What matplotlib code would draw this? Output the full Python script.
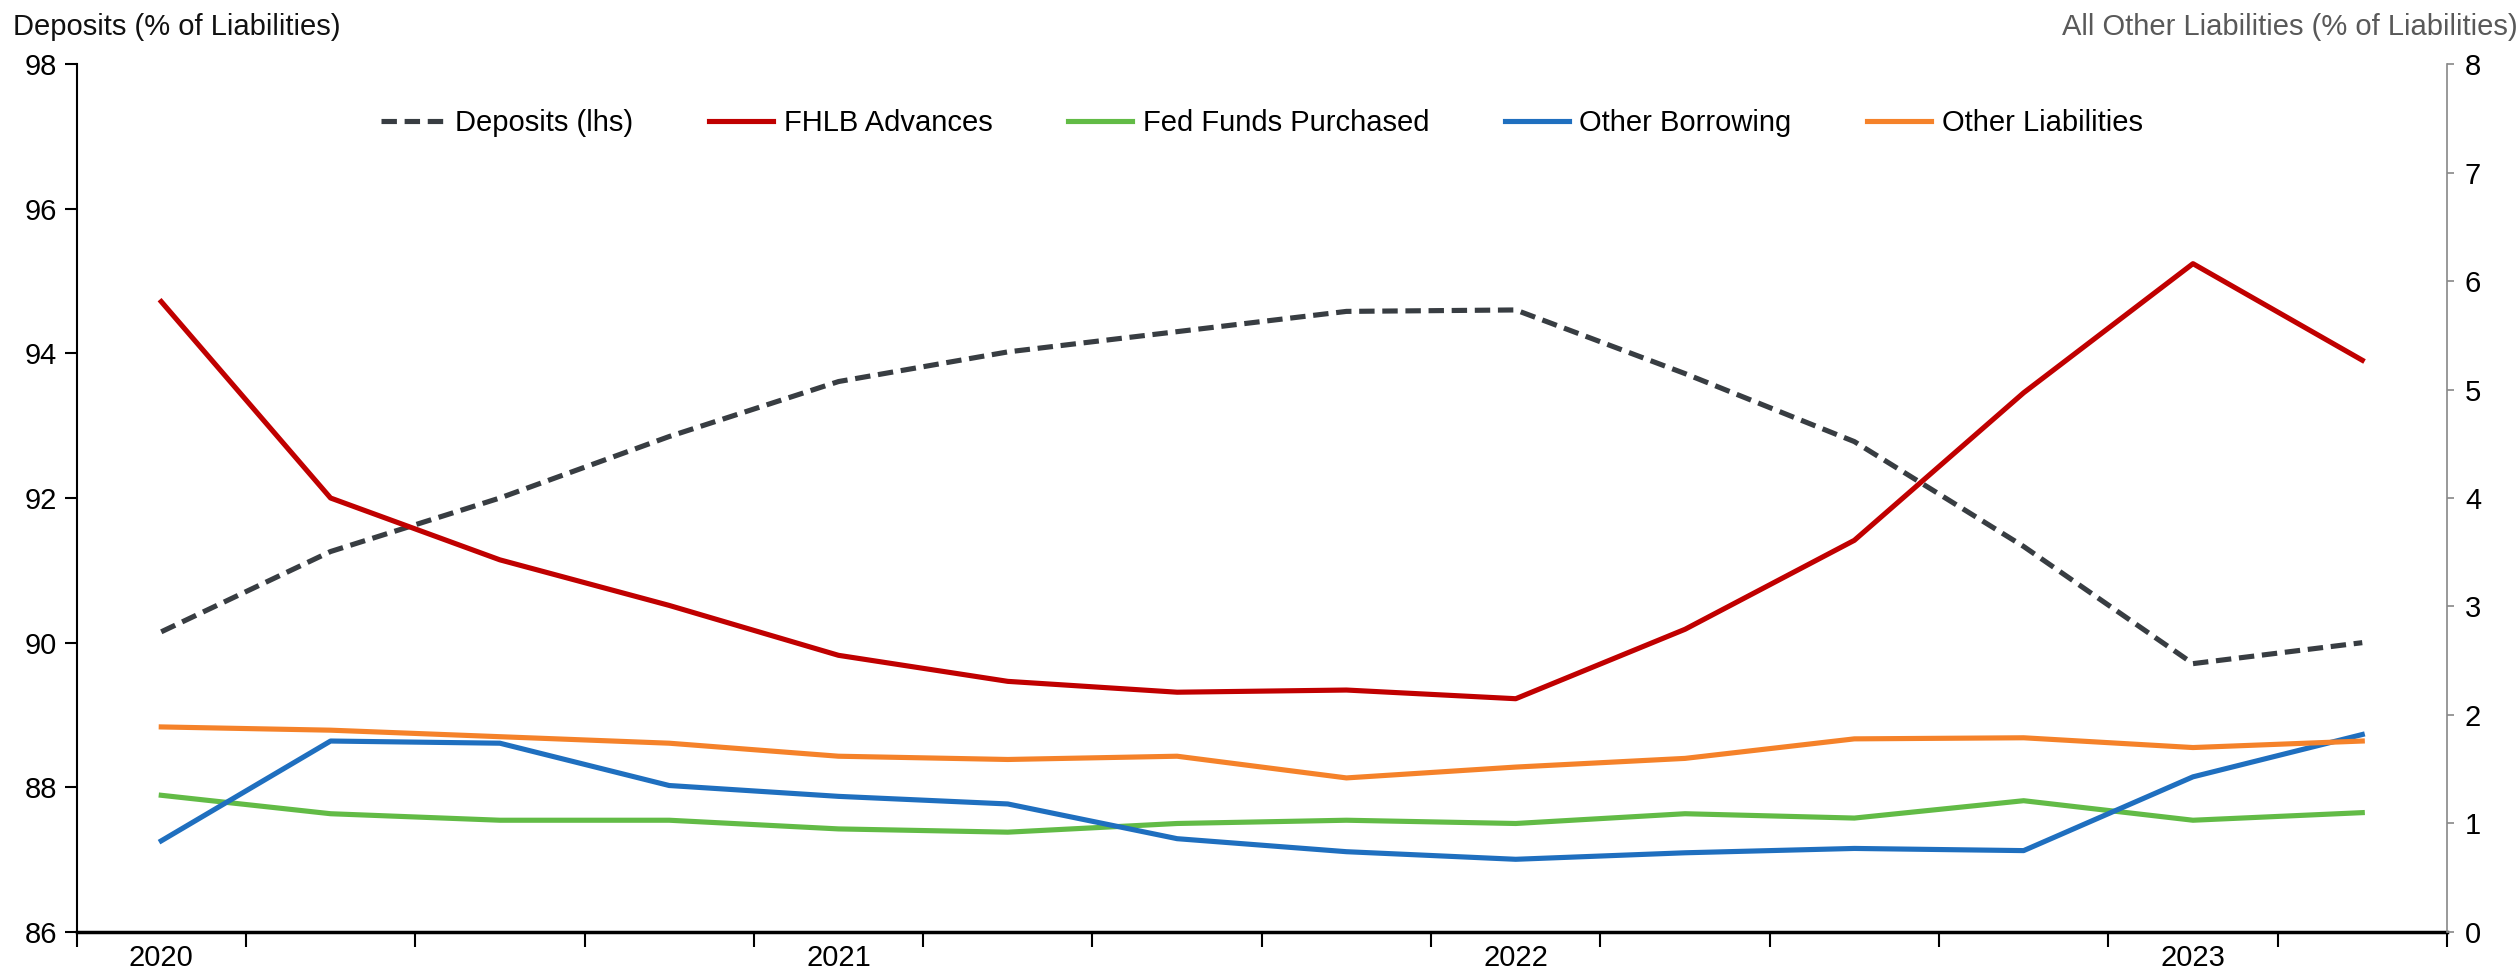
import numpy as np
import matplotlib
matplotlib.use("Agg")
from matplotlib import pyplot as plt

plt.rcParams['font.family'] = ['Liberation Sans', 'DejaVu Sans']

# quarterly data, 2020Q1 - 2023Q2
quarters = ["2020Q1", "2020Q2", "2020Q3", "2020Q4", "2021Q1", "2021Q2", "2021Q3",
            "2021Q4", "2022Q1", "2022Q2", "2022Q3", "2022Q4", "2023Q1", "2023Q2"]
year_labels = ["2020", "2021", "2022", "2023"]
year_pos = [0, 4, 8, 12]

deposits = [90.15, 91.26, 92.0, 92.85, 93.61, 94.02, 94.30, 94.58, 94.60, 93.72, 92.78, 91.33, 89.71, 90.0]
fhlb = [5.81, 4.0, 3.43, 3.01, 2.55, 2.31, 2.21, 2.23, 2.15, 2.79, 3.61, 4.97, 6.16, 5.27]
fed_funds = [1.26, 1.09, 1.03, 1.03, 0.95, 0.92, 1.0, 1.03, 1.0, 1.09, 1.05, 1.21, 1.03, 1.10]
other_borrowing = [0.84, 1.76, 1.74, 1.35, 1.25, 1.18, 0.86, 0.74, 0.67, 0.73, 0.77, 0.75, 1.43, 1.82]
other_liab = [1.89, 1.86, 1.80, 1.74, 1.62, 1.59, 1.62, 1.42, 1.52, 1.60, 1.78, 1.79, 1.70, 1.76]

x = np.arange(len(quarters))
fs = 21

fig = plt.figure(figsize=(25.2, 9.76), dpi=100)
ax = fig.add_axes([0.0304, 0.0451, 0.9406, 0.8893])
ax2 = ax.twinx()

lw = 3.7
l0, = ax.plot(x, deposits, color="#383d42", lw=lw, dashes=(3.0, 1.5), label="Deposits (lhs)")
l1, = ax2.plot(x, fhlb, color="#c00000", lw=lw, label="FHLB Advances")
l2, = ax2.plot(x, fed_funds, color="#62bb46", lw=lw, label="Fed Funds Purchased")
l3, = ax2.plot(x, other_borrowing, color="#1f6fbf", lw=lw, label="Other Borrowing")
l4, = ax2.plot(x, other_liab, color="#f5822a", lw=lw, label="Other Liabilities")

ax.set_xlim(-0.5, len(quarters) - 0.5)
ax.set_ylim(86, 98)
ax.set_yticks(np.arange(86, 99, 2))
ax2.set_ylim(0, 8)
ax2.set_yticks(np.arange(0, 9, 1))

# category boundaries as ticks, year labels in the middle
ax.set_xticks(np.arange(-0.5, len(quarters)), labels=[])
ax.set_xticks(year_pos, labels=year_labels, minor=True)
ax.tick_params(axis="x", which="major", length=11, width=1.5, direction="out", color="black")
ax.tick_params(axis="x", which="minor", length=0, pad=9, labelsize=fs)
ax.tick_params(axis="y", length=9, width=1.5, labelsize=fs, pad=5)
ax2.tick_params(axis="y", length=5, width=1.2, color="#888888", labelsize=fs, pad=8)

ax.spines["top"].set_visible(False)
ax2.spines["top"].set_visible(False)
ax.spines["right"].set_visible(False)
ax2.spines["left"].set_visible(False)
ax2.spines["bottom"].set_visible(False)
ax2.spines["right"].set_color("#888888")
ax2.spines["right"].set_linewidth(1.2)
ax.spines["left"].set_linewidth(1.5)
ax.spines["bottom"].set_linewidth(2.5)

fig.text(0.005, 0.972, "Deposits (% of Liabilities)", fontsize=fs, ha="left", va="center", color="#111111")
fig.text(0.999, 0.972, "All Other Liabilities (% of Liabilities)", fontsize=fs, ha="right", va="center",
         color="#595959")

ax2.legend(handles=[l0, l1, l2, l3, l4], loc="center", bbox_to_anchor=(0.5, 0.932), ncol=5,
           frameon=False, fontsize=fs, handlelength=2.2, handletextpad=0.35, columnspacing=2.6)

plt.savefig("out.png", dpi=100)
